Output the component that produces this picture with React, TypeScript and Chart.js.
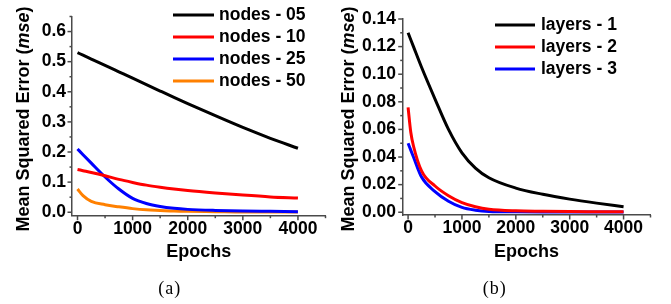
import React, { useEffect, useRef } from "react";
import { Chart, registerables } from "chart.js";

Chart.register(...registerables);

// ---------- data ----------
const epochsA = [0, 100, 250, 500, 750, 1000, 1250, 1500, 1750, 2000, 2500, 3000, 3500, 4000];
const nodes05 = [0.53, 0.5215, 0.5087, 0.4874, 0.4662, 0.445, 0.4237, 0.4025, 0.3815, 0.361, 0.3205, 0.2815, 0.2455, 0.2125];
const nodes10 = [0.142, 0.138, 0.132, 0.121, 0.109, 0.099, 0.09, 0.083, 0.077, 0.072, 0.064, 0.057, 0.051, 0.047];
const nodes25 = [0.21, 0.191, 0.163, 0.117, 0.077, 0.046, 0.029, 0.019, 0.013, 0.0095, 0.006, 0.004, 0.003, 0.002];
const nodes50 = [0.077, 0.055, 0.036, 0.025, 0.018, 0.012, 0.008, 0.006, 0.004, 0.003, 0.002, 0.001, 0.001, 0.001];

const epochsB = [0, 50, 100, 250, 500, 750, 1000, 1250, 1500, 2000, 2500, 3000, 3500, 4000];
const layers1 = [0.13, 0.125, 0.12, 0.105, 0.082, 0.06, 0.043, 0.032, 0.025, 0.0175, 0.013, 0.0095, 0.0066, 0.004];
const layers2 = [0.076, 0.058, 0.048, 0.03, 0.019, 0.012, 0.007, 0.004, 0.0022, 0.001, 0.0007, 0.0005, 0.0004, 0.0003];
const layers3 = [0.05, 0.045, 0.04, 0.0255, 0.015, 0.008, 0.0035, 0.0015, 0.0006, 0.0003, 0.0002, 0.0002, 0.0002, 0.0002];

const legendA = ["nodes - 05", "nodes - 10", "nodes - 25", "nodes - 50"];
const legendB = ["layers - 1", "layers - 2", "layers - 3"];
const colorsA = ["#000000", "#ff0000", "#0000ff", "#ff8000"];
const colorsB = ["#000000", "#ff0000", "#0000ff"];

const xTicks = [0, 1000, 2000, 3000, 4000];
const xTickLabels = ["0", "1000", "2000", "3000", "4000"];
const xMinorTicks = [500, 1500, 2500, 3500, 4500];

const yTicksA = [0, 0.1, 0.2, 0.3, 0.4, 0.5, 0.6];
const yTickLabelsA = ["0.0", "0.1", "0.2", "0.3", "0.4", "0.5", "0.6"];
const yMinorA = [0.05, 0.15, 0.25, 0.35, 0.45, 0.55, 0.65];

const yTicksB = [0, 0.02, 0.04, 0.06, 0.08, 0.1, 0.12, 0.14];
const yTickLabelsB = ["0.00", "0.02", "0.04", "0.06", "0.08", "0.10", "0.12", "0.14"];
const yMinorB = [0.01, 0.03, 0.05, 0.07, 0.09, 0.11, 0.13];

const xTitle = "Epochs";
const yTitleParts: [string, boolean][] = [
  ["Mean Squared Error (", false],
  ["mse", true],
  [")", false],
];

// ---------- styling ----------
const FAMILY = "'Liberation Sans', Arial, sans-serif";
const FS = 17.5;
const TFS = 18;
const AXIS = "#4a4a4a";

const decorPlugin = {
  id: "decor",
  afterDraw(chart: any, _args: any, o: any) {
    const ctx = chart.ctx as CanvasRenderingContext2D;
    const xs = chart.scales.x;
    const ys = chart.scales.y;
    const ca = chart.chartArea;
    ctx.save();
    ctx.strokeStyle = AXIS;
    ctx.lineWidth = 1.5;
    const drawX = (v: number, len: number) => {
      const px = xs.getPixelForValue(v);
      ctx.beginPath();
      ctx.moveTo(px, ca.bottom);
      ctx.lineTo(px, ca.bottom + len);
      ctx.stroke();
    };
    o.xMajor.forEach((v: number) => drawX(v, 4.5));
    o.xMinor.forEach((v: number) => drawX(v, 2.5));
    const drawY = (v: number, len: number) => {
      const py = ys.getPixelForValue(v);
      ctx.beginPath();
      ctx.moveTo(ca.left, py);
      ctx.lineTo(ca.left - len, py);
      ctx.stroke();
    };
    o.yMajor.forEach((v: number) => drawY(v, 4.5));
    o.yMinor.forEach((v: number) => drawY(v, 2.5));

    ctx.fillStyle = "#000";
    ctx.font = `bold ${TFS}px ${FAMILY}`;
    ctx.textAlign = "center";
    ctx.textBaseline = "middle";
    ctx.fillText(xTitle, o.xTitleX, o.xTitleY);

    ctx.save();
    ctx.translate(o.yTitleX, o.yTitleY);
    ctx.rotate(-Math.PI / 2);
    const fonts = yTitleParts.map(([, it]) => `${it ? "italic " : ""}bold ${TFS}px ${FAMILY}`);
    const widths = yTitleParts.map(([t], i) => {
      ctx.font = fonts[i];
      return ctx.measureText(t).width;
    });
    const total = widths.reduce((a, b) => a + b, 0);
    let cx = -total / 2;
    ctx.textAlign = "left";
    yTitleParts.forEach(([t], i) => {
      ctx.font = fonts[i];
      ctx.fillText(t, cx, 0);
      cx += widths[i];
    });
    ctx.restore();

    const lg = o.legend;
    chart.data.datasets.forEach((ds: any, i: number) => {
      const y = lg.y0 + i * lg.dy;
      ctx.strokeStyle = ds.borderColor;
      ctx.lineWidth = 3;
      ctx.beginPath();
      ctx.moveTo(lg.x1, y);
      ctx.lineTo(lg.x2, y);
      ctx.stroke();
      ctx.fillStyle = "#000";
      ctx.font = `bold ${FS}px ${FAMILY}`;
      ctx.textAlign = "left";
      ctx.textBaseline = "middle";
      ctx.fillText(ds.label, lg.tx, y);
    });
    ctx.restore();
  },
};

function makeConfig(p: any): any {
  const datasets = p.series.map((s: number[], i: number) => ({
    label: p.labels[i],
    data: p.epochs.map((x: number, j: number) => ({ x, y: s[j] })),
    borderColor: p.colors[i],
    backgroundColor: p.colors[i],
    borderWidth: 3,
    pointRadius: 0,
    fill: false,
    cubicInterpolationMode: "monotone",
  }));
  const tickFont = { family: FAMILY, size: FS, weight: "bold" };
  return {
    type: "line",
    data: { datasets },
    plugins: [decorPlugin],
    options: {
      animation: false,
      responsive: false,
      events: [],
      layout: { padding: p.padding },
      plugins: {
        legend: { display: false },
        tooltip: { enabled: false },
        decor: p.decor,
      },
      scales: {
        x: {
          type: "linear",
          min: -100,
          max: 4500,
          afterBuildTicks: (s: any) => {
            s.ticks = xTicks.map((v) => ({ value: v }));
          },
          afterFit: (s: any) => {
            s.height = p.xHeight;
          },
          ticks: {
            autoSkip: false,
            maxRotation: 0,
            padding: p.xPad,
            color: "#000",
            font: tickFont,
            callback: (_v: any, i: number) => xTickLabels[i],
          },
          grid: { display: true, drawOnChartArea: false, drawTicks: false },
          border: { display: true, color: AXIS, width: 1.5 },
        },
        y: {
          type: "linear",
          min: p.yMin,
          max: p.yMax,
          afterBuildTicks: (s: any) => {
            s.ticks = p.yTicks.map((v: number) => ({ value: v }));
          },
          afterFit: (s: any) => {
            s.width = p.yWidth;
          },
          ticks: {
            autoSkip: false,
            padding: p.yPad,
            color: "#000",
            font: tickFont,
            callback: (_v: any, i: number) => p.yTickLabels[i],
          },
          grid: { display: true, drawOnChartArea: false, drawTicks: false },
          border: { display: true, color: AXIS, width: 1.5 },
        },
      },
    },
  };
}

const configA = () =>
  makeConfig({
    epochs: epochsA,
    series: [nodes05, nodes10, nodes25, nodes50],
    labels: legendA,
    colors: colorsA,
    padding: { left: 0, top: 16, right: 9.5, bottom: 0 },
    xHeight: 304 - 215.7,
    yWidth: 72,
    xPad: 3,
    yPad: 6,
    yMin: -0.0115,
    yMax: 0.65,
    yTicks: yTicksA,
    yTickLabels: yTickLabelsA,
    decor: {
      xMajor: xTicks,
      xMinor: xMinorTicks,
      yMajor: yTicksA,
      yMinor: yMinorA,
      xTitleX: 198.7,
      xTitleY: 251.7,
      yTitleX: 24,
      yTitleY: 119,
      legend: { x1: 173, x2: 214, tx: 219, y0: 15, dy: 22 },
    },
  });

const configB = () =>
  makeConfig({
    epochs: epochsB,
    series: [layers1, layers2, layers3],
    labels: legendB,
    colors: colorsB,
    padding: { left: 0, top: 19, right: 20.5, bottom: 0 },
    xHeight: 304 - 215,
    yWidth: 66.7,
    xPad: 3,
    yPad: 6.7,
    yMin: -0.002,
    yMax: 0.14,
    yTicks: yTicksB,
    yTickLabels: yTickLabelsB,
    decor: {
      xMajor: xTicks,
      xMinor: xMinorTicks,
      yMajor: yTicksB,
      yMinor: yMinorB,
      xTitleX: 190.6,
      xTitleY: 252,
      yTitleX: 13,
      yTitleY: 119,
      legend: { x1: 159, x2: 199, tx: 205, y0: 25, dy: 22 },
    },
  });

function Panel({ left, make }: { left: number; make: () => any }) {
  const ref = useRef<HTMLCanvasElement | null>(null);
  useEffect(() => {
    if (!ref.current) return;
    const chart = new Chart(ref.current, make());
    return () => chart.destroy();
  }, []);
  return (
    <canvas
      ref={ref}
      width={335}
      height={304}
      style={{ position: "absolute", left, top: 0, width: 335, height: 304 }}
    />
  );
}

const captionStyle = (cx: number): React.CSSProperties => ({
  position: "absolute",
  left: cx - 30,
  width: 60,
  top: 277,
  lineHeight: "22px",
  textAlign: "center",
  fontFamily: "'Liberation Serif', 'Times New Roman', serif",
  fontSize: 18,
  letterSpacing: "1px",
  textIndent: "1px",
  color: "#000",
});

export default function App() {
  return (
    <div
      style={{
        position: "absolute",
        left: 0,
        top: 0,
        width: 671,
        height: 304,
        background: "#fff",
        overflow: "hidden",
      }}
    >
      <Panel left={0} make={configA} />
      <Panel left={336} make={configB} />
      <div style={captionStyle(169.3)}>(a)</div>
      <div style={captionStyle(494.3)}>(b)</div>
    </div>
  );
}
